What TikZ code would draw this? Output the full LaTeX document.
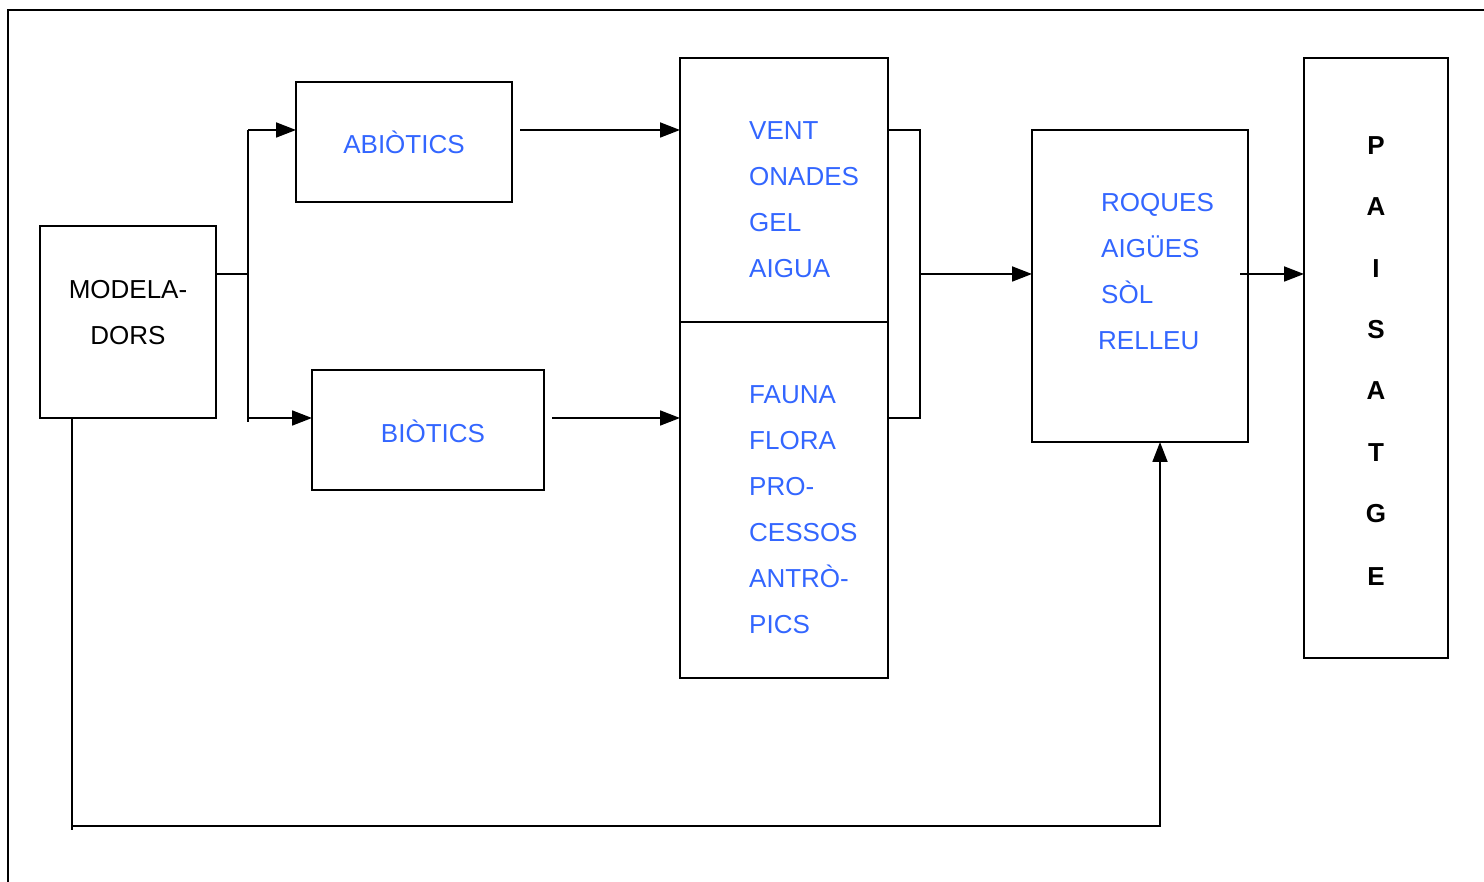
\documentclass[tikz,border=0pt]{standalone}
\usepackage{fontspec}
\setmainfont{Liberation Sans}
\usetikzlibrary{arrows.meta}
\definecolor{txtblue}{RGB}{51,102,255}
\begin{document}
\begin{tikzpicture}[x=1pt,y=-1pt,
  box/.style={draw,line width=1.8pt,minimum width=#1,inner sep=0pt},
  lbl/.style={font=\fontsize{26}{30}\selectfont,text height=18.5pt,text depth=0pt,inner sep=0pt,txtblue},
  blk/.style={font=\fontsize{26}{30}\selectfont,text height=18.5pt,text depth=0pt,inner sep=0pt,black},
  big/.style={font=\bfseries\fontsize{26}{30}\selectfont,text height=18.5pt,text depth=0pt,inner sep=0pt,black},
  conn/.style={line width=1.8pt},
  arr/.style={line width=1.8pt,-{Triangle[length=20pt,width=15pt]}}]
\useasboundingbox (0,0) rectangle (1484,882);
% outer frame
\draw[line width=1.8pt] (1500,10) -- (8,10) -- (8,900);
% boxes
\node[box=176pt,minimum height=192pt] (mod) at (128,322) {};
\node[box=216pt,minimum height=120pt] (abio) at (404,142) {};
\node[box=232pt,minimum height=120pt] (bio) at (428,430) {};
\node[box=208pt,minimum height=264pt] (agt) at (784,190) {};
\node[box=208pt,minimum height=356pt] (bag) at (784,500) {};
\node[box=216pt,minimum height=312pt] (roq) at (1140,286) {};
\node[box=144pt,minimum height=600pt] (pai) at (1376,358) {};
% texts
\node[blk] (t1) at (128,289) {MODELA-};
\node[blk] (t2) at (128,335) {DORS};
\node[lbl] (ta) at (404,144) {ABIÒTICS};
\node[lbl] (tb) at (433,433) {BIÒTICS};
\node[lbl,anchor=west] (v1) at (749,130) {VENT};
\node[lbl,anchor=west] (v2) at (749,176) {ONADES};
\node[lbl,anchor=west] (v3) at (749,222) {GEL};
\node[lbl,anchor=west] (v4) at (749,268) {AIGUA};
\node[lbl,anchor=west] (f1) at (749,394) {FAUNA};
\node[lbl,anchor=west] (f2) at (749,440) {FLORA};
\node[lbl,anchor=west] (f3) at (749,486) {PRO-};
\node[lbl,anchor=west] (f4) at (749,532) {CESSOS};
\node[lbl,anchor=west] (f5) at (749,578) {ANTRÒ-};
\node[lbl,anchor=west] (f6) at (749,624) {PICS};
\node[lbl,anchor=west] (r1) at (1101,202) {ROQUES};
\node[lbl,anchor=west] (r2) at (1101,248) {AIGÜES};
\node[lbl,anchor=west] (r3) at (1101,294) {SÒL};
\node[lbl,anchor=west] (r4) at (1098,340) {RELLEU};
\foreach \l/\y [count=\i] in {P/145,A/206,I/268,S/329,A/390,T/452,G/513,E/576}
  \node[big] (p\i) at (1376,\y) {\l};
% connector coordinates
\coordinate (split) at (248,274);
\coordinate (splitT) at (248,130);
\coordinate (splitB) at (248,422);
\coordinate (splitL) at (248,418);
\coordinate (aIn) at (296,130);
\coordinate (bIn) at (312,418);
\coordinate (aOut) at (520,130);
\coordinate (bOut) at (552,418);
\coordinate (agtIn) at (680,130);
\coordinate (bagIn) at (680,418);
\coordinate (brT) at (888,130);
\coordinate (brB) at (888,418);
\coordinate (brM) at (920,274);
\coordinate (roqIn) at (1032,274);
\coordinate (roqOut) at (1240,274);
\coordinate (paiIn) at (1304,274);
\coordinate (fbStart) at (72,418);
\coordinate (fbCorner) at (72,830);
\coordinate (fbRun) at (72,826);
\coordinate (fbEnd) at (1160,442);
% connectors
\draw[conn] (mod.east |- split) -- (split);
\draw[conn] (splitT) -- (splitB);
\draw[arr] (splitT) -- (aIn);
\draw[arr] (splitL) -- (bIn);
\draw[arr] (aOut) -- (agtIn);
\draw[arr] (bOut) -- (bagIn);
\draw[conn] (brT) -| (brM) |- (brB);
\draw[arr] (brM) -- (roqIn);
\draw[arr] (roqOut) -- (paiIn);
\draw[conn] (fbStart) -- (fbCorner);
\draw[arr] (fbRun) -| (fbEnd);
\end{tikzpicture}
\end{document}
